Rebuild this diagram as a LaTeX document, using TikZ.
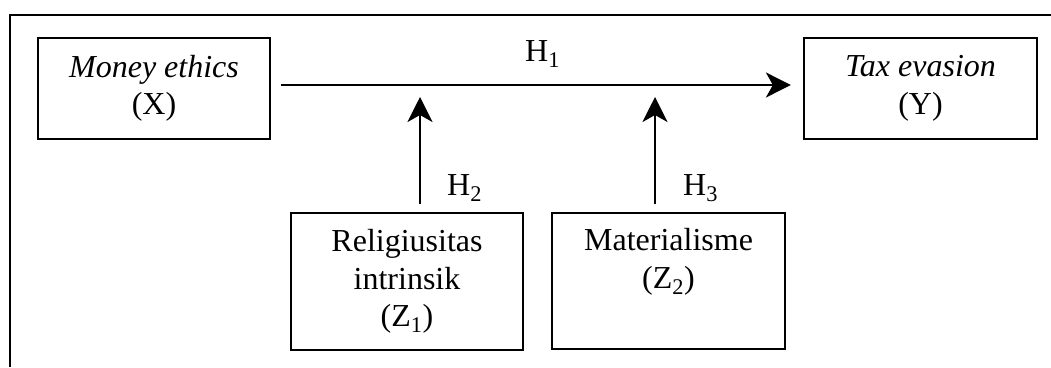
\documentclass[tikz,border=0pt]{standalone}
\usepackage{fontspec}
\setmainfont{Liberation Serif}
\usetikzlibrary{positioning, calc, arrows.meta}

\begin{document}
\begin{tikzpicture}[
  x=1pt, y=-1pt,
  varbox/.style={
    draw=black, line width=2.2pt, inner sep=0pt,
    minimum width=232pt, minimum height=101pt,
    align=center, font=\fontsize{32}{37.5}\selectfont
  },
  hyp/.style={anchor=base west, inner sep=0pt, font=\fontsize{32}{37.5}\selectfont},
  arr/.style={-{Stealth[length=25pt, width=25pt, inset=7pt]}, line width=2.2pt}
]
  \useasboundingbox (0,0) rectangle (1051,367);
  \draw[line width=2pt] (1051,15) -- (10,15) -- (10,367);

  \node[varbox] (moneyX) at (154,88.5) {\textit{Money ethics}\\(X)};
  \node[varbox, minimum width=233pt] (taxY) at (920.5,88.5) {\textit{Tax evasion}\\(Y)};
  \node[varbox, minimum height=137pt] (religZ) at (407,281.5) {Religiusitas\\intrinsik\\(Z\textsubscript{1})};
  \node[varbox, minimum width=233pt, minimum height=136pt, text depth=45pt] (materZ) at (668.5,281) {Materialisme\\(Z\textsubscript{2})};

  \coordinate (m1) at (420,85);
  \coordinate (m2) at (655,85);
  \draw[arr, shorten <=10pt, shorten >=12pt] (moneyX.east |- m1) -- (taxY.west |- m1);
  \draw[arr, shorten <=8pt, shorten >=12pt] (m1 |- religZ.north) -- (m1);
  \draw[arr, shorten <=8pt, shorten >=12pt] (m2 |- materZ.north) -- (m2);

  \node[hyp] (hypA) at (525,61) {H\textsubscript{1}};
  \node[hyp] (hypB) at (447,195) {H\textsubscript{2}};
  \node[hyp] (hypC) at (683,195) {H\textsubscript{3}};
\end{tikzpicture}
\end{document}
